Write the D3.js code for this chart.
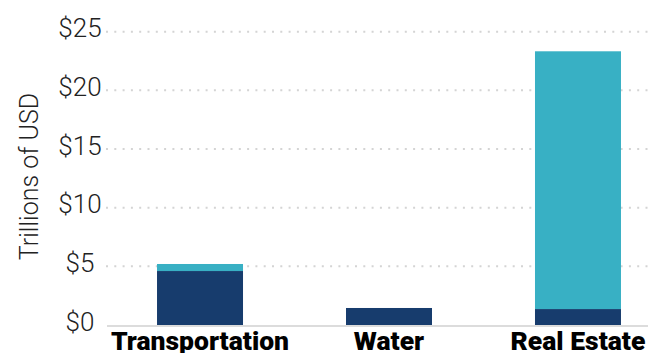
<!DOCTYPE html>
<html>
<head>
<meta charset="utf-8">
<script src="https://cdn.jsdelivr.net/npm/d3@7"></script>
<style>
  html, body { margin: 0; padding: 0; background: #fff; overflow: hidden; }
  svg { display: block; }
</style>
</head>
<body>
<svg id="chart" width="648" height="353"></svg>
<script>
const categories = ["Transportation", "Water", "Real Estate"];
const darkSeries = [4.6, 1.45, 1.36];
const lightSeries = [0.6, 0, 21.97];
const tickValues = [0, 5, 10, 15, 20, 25];
const tickLabels = ["$0", "$5", "$10", "$15", "$20", "$25"];
const yAxisTitle = "Trillions of USD";

const svg = d3.select("#chart");
const W = 648, H = 353;

const y = d3.scaleLinear().domain([0, 25]).range([325, 31.7]);
const x = d3.scaleBand().domain(categories).range([106, 672]).paddingInner(0.545).paddingOuter(0.27);

const data = categories.map((c, i) => ({ cat: c, dark: darkSeries[i], light: lightSeries[i] }));
const stack = d3.stack().keys(["dark", "light"]);
const stacked = stack(data);
const colors = { dark: "#173c6d", light: "#38b0c4" };

// gridlines
const grid = svg.append("g");
grid.selectAll("line").data(tickValues.filter(v => v > 0)).join("line")
  .attr("x1", 106).attr("x2", W)
  .attr("y1", d => y(d)).attr("y2", d => y(d))
  .attr("stroke", "#d4d4d4").attr("stroke-width", 2)
  .attr("stroke-dasharray", "2,6.3");

// bars
svg.append("g").selectAll("g").data(stacked).join("g")
  .attr("fill", d => colors[d.key])
  .selectAll("rect").data(d => d).join("rect")
  .attr("x", d => x(d.data.cat))
  .attr("width", x.bandwidth())
  .attr("y", d => y(d[1]))
  .attr("height", d => Math.max(0, y(d[0]) - y(d[1])));

// baseline
svg.append("line")
  .attr("x1", 107).attr("x2", W)
  .attr("y1", y(0) + 1).attr("y2", y(0) + 1)
  .attr("stroke", "#dcdcdc").attr("stroke-width", 2);

// y tick labels
svg.append("g").selectAll("text").data(tickValues).join("text")
  .attr("x", 80)
  .attr("y", d => y(d) + 5.5)
  .attr("text-anchor", "middle")
  .attr("font-family", "Roboto, sans-serif")
  .attr("font-weight", 300)
  .attr("font-size", 26)
  .attr("fill", "#222")
  .text((d, i) => tickLabels[i]);

// y axis title
svg.append("text")
  .attr("transform", "translate(37.5,176.5) rotate(-90)")
  .attr("text-anchor", "middle")
  .attr("font-family", "Roboto, sans-serif")
  .attr("font-weight", 300)
  .attr("font-size", 25)
  .attr("fill", "#222")
  .text(yAxisTitle);

// category labels
svg.append("g").selectAll("text").data(categories).join("text")
  .attr("x", d => x(d) + x.bandwidth() / 2)
  .attr("y", 350)
  .attr("text-anchor", "middle")
  .attr("font-family", "Roboto, sans-serif")
  .attr("font-weight", 900)
  .attr("font-size", 26.5)
  .attr("fill", "#000")
  .text(d => d);
</script>
</body>
</html>
